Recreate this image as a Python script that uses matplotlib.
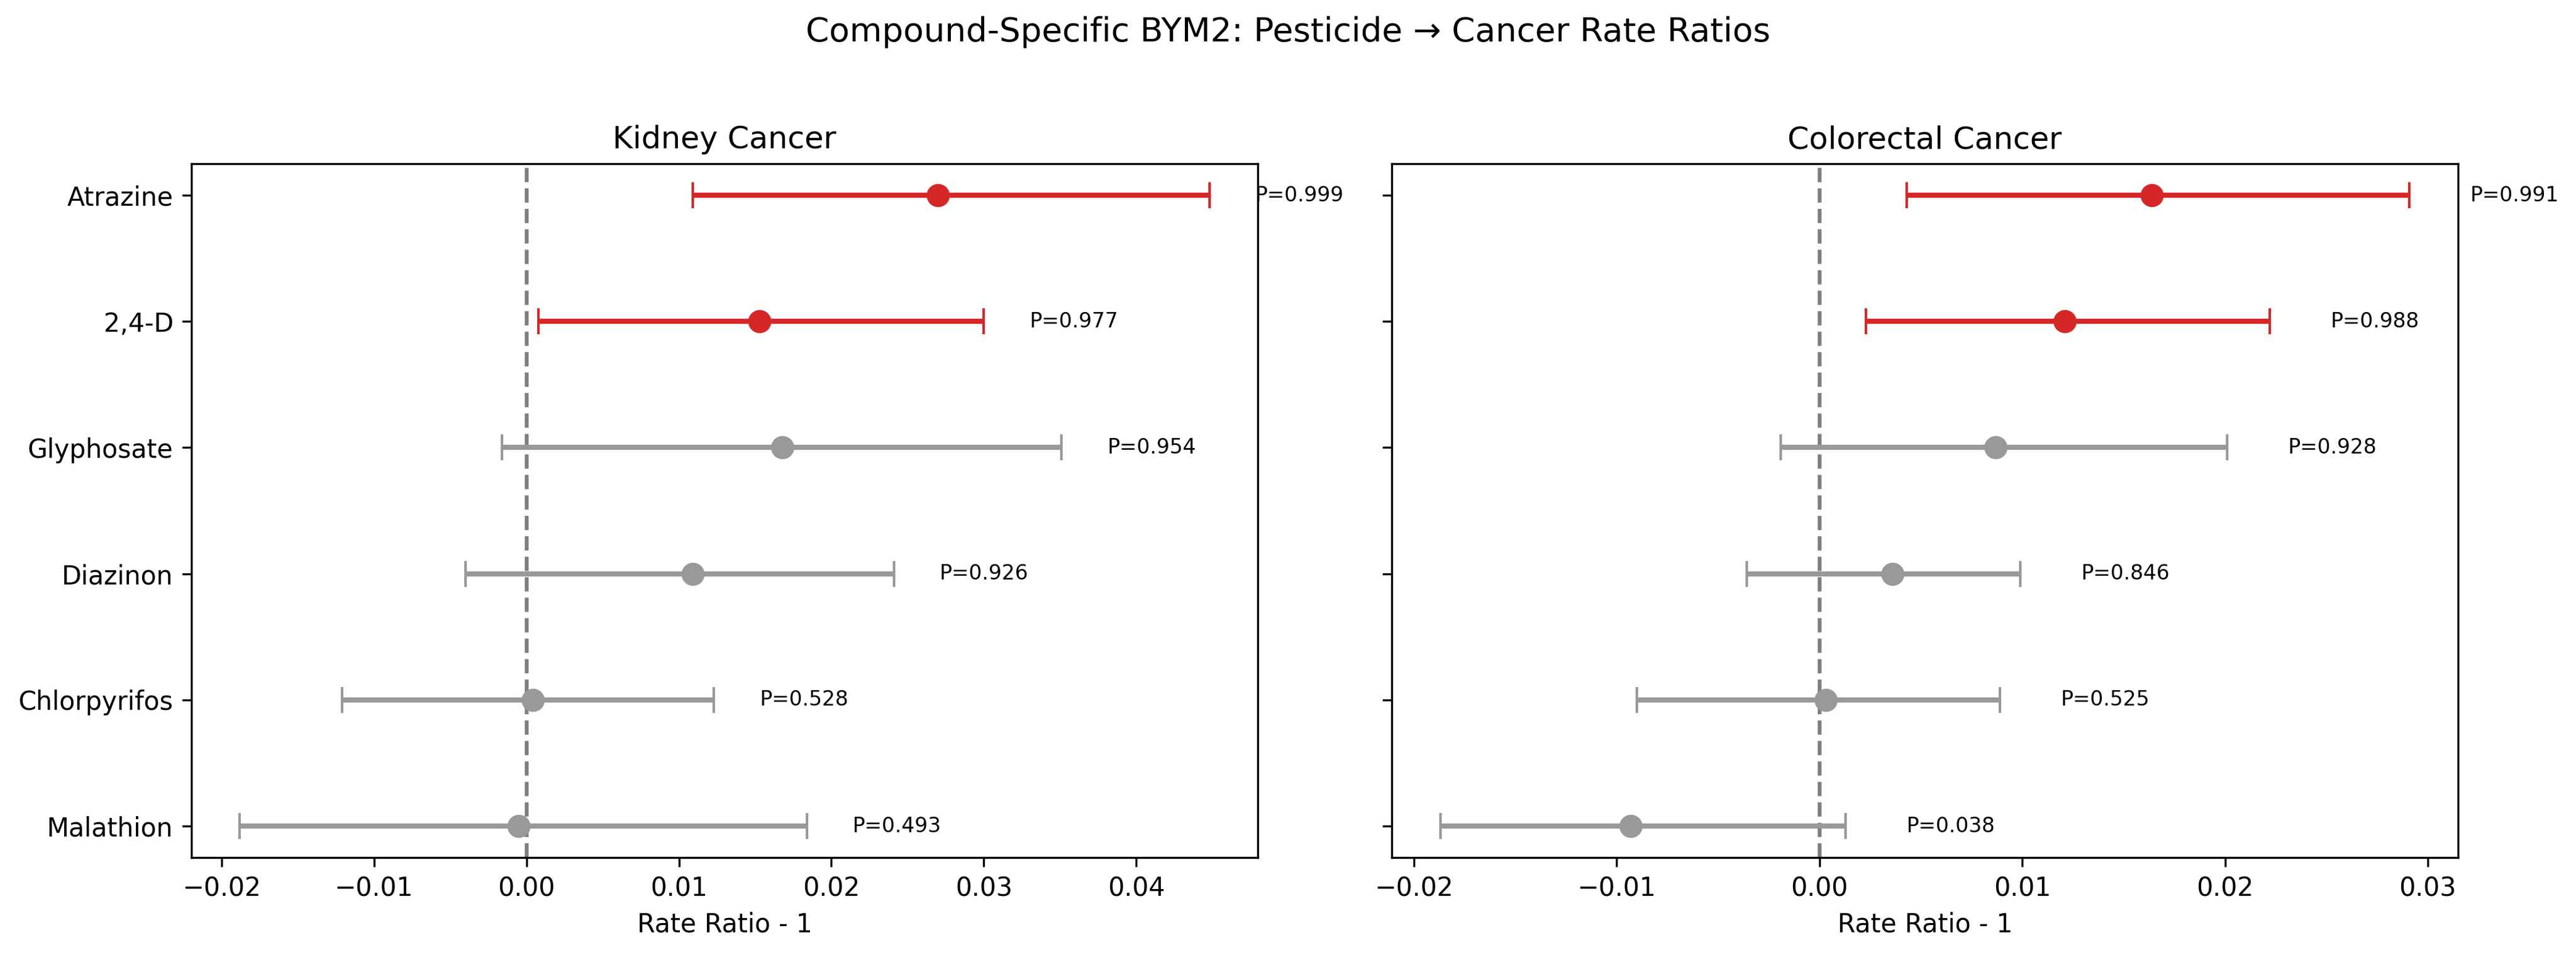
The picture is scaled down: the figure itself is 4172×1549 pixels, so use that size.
import numpy as np
import matplotlib
matplotlib.use("Agg")
import matplotlib.pyplot as plt

# compounds, top to bottom
compounds = ['Atrazine', '2,4-D', 'Glyphosate', 'Diazinon', 'Chlorpyrifos', 'Malathion']

# kidney cancer: posterior median (RR - 1), 95% interval, P(RR > 1)
kid_est = [0.0270, 0.0153, 0.0168, 0.0109, 0.0004, -0.0005]
kid_lo = [0.0109, 0.0008, -0.0016, -0.0040, -0.0121, -0.0188]
kid_hi = [0.0448, 0.0300, 0.0351, 0.0241, 0.0123, 0.0184]
kid_p = [0.999, 0.977, 0.954, 0.926, 0.528, 0.493]

# colorectal cancer
col_est = [0.0164, 0.0121, 0.0087, 0.0036, 0.0003, -0.0093]
col_lo = [0.0043, 0.0023, -0.0019, -0.0036, -0.0090, -0.0187]
col_hi = [0.0291, 0.0222, 0.0201, 0.0099, 0.0089, 0.0013]
col_p = [0.991, 0.988, 0.928, 0.846, 0.525, 0.038]

panels = [('Kidney Cancer', kid_est, kid_lo, kid_hi, kid_p),
          ('Colorectal Cancer', col_est, col_lo, col_hi, col_p)]

fig = plt.figure(figsize=(4172/300, 1549/300), dpi=300)
ax1 = fig.add_axes([0.0743, 0.1039, 0.4140, 0.7250])
ax2 = fig.add_axes([0.5403, 0.1039, 0.4139, 0.7250], sharey=ax1)
axs = [ax1, ax2]

ypos = np.arange(len(compounds))[::-1]

for ax, (title, est, lo, hi, p) in zip(axs, panels):
    ax.axvline(0, color='gray', linestyle='--', lw=1.5, zorder=1)
    for i in range(len(compounds)):
        # red = lower bound of interval above zero
        c = '#d62728' if lo[i] > 0 else '#999999'
        ax.errorbar(est[i], ypos[i],
                    xerr=[[est[i] - lo[i]], [hi[i] - est[i]]],
                    fmt='o', color=c, ecolor=c, markersize=8,
                    capsize=5, lw=2, zorder=2)
        ax.text(hi[i] + 0.003, ypos[i], 'P=%.3f' % p[i], fontsize=8,
                ha='left', va='center')
    ax.set_title(title, fontsize=12)
    ax.set_xlabel('Rate Ratio - 1', fontsize=10)

ax1.set_yticks(ypos)
ax1.set_yticklabels(compounds, fontsize=10)
plt.setp(ax2.get_yticklabels(), visible=False)

fig.suptitle('Compound-Specific BYM2: Pesticide \u2192 Cancer Rate Ratios',
             fontsize=13, y=0.983)

fig.savefig('out.png', dpi=300)
